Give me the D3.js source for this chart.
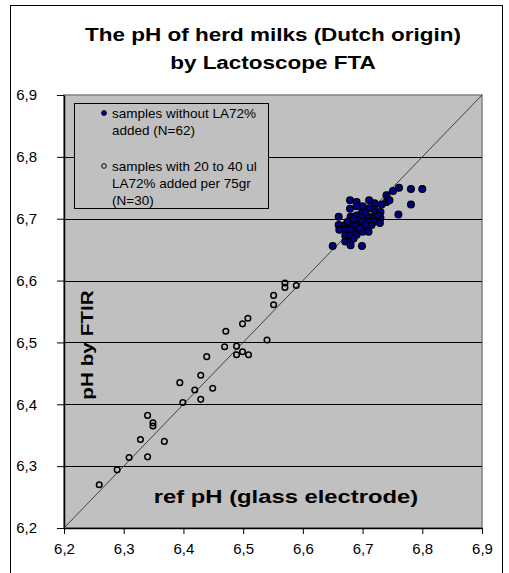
<!DOCTYPE html>
<html>
  <head>
    <style>
      body,
      html {
        margin: 0;
        padding: 0;
        background: #fff;
      }
      text {
        font-family: 'Liberation Sans', Arial, sans-serif;
      }
    </style>
  </head>
  <body>
    <script src="https://cdn.jsdelivr.net/npm/d3@7"></script>
    <script>
      // samples without LA72% added (N=62): ref pH / pH by FTIR
      const plainRef = [
        6.650, 6.679, 6.690, 6.711, 6.740, 6.751, 6.761, 6.740, 6.732, 6.720,
        6.679, 6.711, 6.699, 6.721, 6.730, 6.760, 6.660, 6.680, 6.690, 6.700,
        6.710, 6.719, 6.730, 6.680, 6.690, 6.700, 6.710, 6.719, 6.729, 6.660,
        6.671, 6.680, 6.690, 6.700, 6.661, 6.671, 6.680, 6.690, 6.700, 6.710,
        6.671, 6.680, 6.690, 6.671, 6.680, 6.680, 6.699, 6.781, 6.800, 6.781,
        6.700, 6.720, 6.685, 6.695, 6.705, 6.725, 6.675, 6.685, 6.715, 6.745,
        6.705, 6.690
      ];
      const plainFtir = [
        6.656, 6.730, 6.727, 6.730, 6.738, 6.745, 6.750, 6.727, 6.723, 6.719,
        6.716, 6.717, 6.710, 6.710, 6.711, 6.707, 6.703, 6.703, 6.705, 6.703,
        6.703, 6.702, 6.701, 6.695, 6.696, 6.696, 6.695, 6.695, 6.693, 6.690,
        6.690, 6.689, 6.689, 6.687, 6.682, 6.682, 6.682, 6.680, 6.679, 6.679,
        6.673, 6.673, 6.674, 6.663, 6.664, 6.657, 6.656, 6.748, 6.748, 6.723,
        6.720, 6.725, 6.700, 6.685, 6.710, 6.705, 6.695, 6.668, 6.690, 6.730,
        6.690, 6.720
      ];

      // samples with 20 to 40 ul LA72% added per 75gr (N=30)
      const addedRef = [
        6.570, 6.570, 6.589, 6.551, 6.551, 6.508, 6.499, 6.471, 6.540, 6.469,
        6.489, 6.499, 6.489, 6.509, 6.439, 6.429, 6.394, 6.419, 6.449, 6.429,
        6.399, 6.340, 6.349, 6.349, 6.328, 6.368, 6.309, 6.340, 6.289, 6.259
      ];
      const addedFtir = [
        6.596, 6.589, 6.592, 6.576, 6.561, 6.539, 6.530, 6.518, 6.504, 6.493,
        6.494, 6.485, 6.480, 6.480, 6.477, 6.447, 6.435, 6.423, 6.426, 6.408,
        6.403, 6.382, 6.370, 6.365, 6.343, 6.340, 6.314, 6.315, 6.294, 6.270
      ];

      const ticks = [6.2, 6.3, 6.4, 6.5, 6.6, 6.7, 6.8, 6.9];
      const titleLines = ['The pH of herd milks (Dutch origin)', 'by Lactoscope FTA'];
      const legendPlain = ['samples without LA72%', 'added (N=62)'];
      const legendAdded = ['samples with 20 to 40 ul', 'LA72% added per 75gr', '(N=30)'];

      const width = 509;
      const height = 573;
      const plot = { left: 64, right: 482, top: 95, bottom: 528 };

      const svg = d3
        .select('body')
        .append('svg')
        .attr('width', width)
        .attr('height', height);

      const x = d3.scaleLinear().domain([6.2, 6.9]).range([plot.left, plot.right]);
      const y = d3.scaleLinear().domain([6.2, 6.9]).range([plot.bottom, plot.top]);
      const fmt = (d) => d.toFixed(1).replace('.', ',');

      // the original picture is stretched sideways, so bold labels get a wider scale
      function wideText(parent, tx, ty, str, size, sx, rot) {
        return parent.append('text')
          .attr('transform', `translate(${tx},${ty}) rotate(${rot || 0}) scale(${sx},1)`)
          .attr('text-anchor', 'middle')
          .attr('font-size', size)
          .attr('font-weight', 'bold')
          .text(str);
      }

      // chart border
      svg.append('rect')
        .attr('x', 10.5)
        .attr('y', 5.5)
        .attr('width', 492)
        .attr('height', 600)
        .attr('fill', '#fff')
        .attr('stroke', '#000');

      // title
      titleLines.forEach((t, i) => wideText(svg, 273, 41 + i * 28, t, 18, 1.25));

      // plot area
      svg.append('rect')
        .attr('x', plot.left)
        .attr('y', plot.top)
        .attr('width', plot.right - plot.left)
        .attr('height', plot.bottom - plot.top)
        .attr('fill', '#c0c0c0')
        .attr('stroke', '#808080')
        .attr('stroke-width', 1.5);

      // gridlines
      svg.append('g')
        .selectAll('line')
        .data(ticks.slice(1, -1))
        .enter()
        .append('line')
        .attr('x1', plot.left)
        .attr('x2', plot.right)
        .attr('y1', (d) => Math.round(y(d)) + 0.5)
        .attr('y2', (d) => Math.round(y(d)) + 0.5)
        .attr('stroke', '#000');

      // axes
      const xAxis = svg.append('g')
        .attr('transform', `translate(0,${plot.bottom})`)
        .call(d3.axisBottom(x).tickValues(ticks).tickFormat(fmt).tickSize(6).tickSizeOuter(0));
      const yAxis = svg.append('g')
        .attr('transform', `translate(${plot.left},0)`)
        .call(d3.axisLeft(y).tickValues(ticks).tickFormat(fmt).tickSize(7).tickSizeOuter(0));
      [xAxis, yAxis].forEach((a) => {
        a.select('.domain').attr('stroke', '#000').attr('stroke-width', 1.5);
        a.selectAll('text')
          .attr('font-family', "'Liberation Sans', Arial, sans-serif")
          .attr('font-size', 15)
          .attr('fill', '#000');
      });
      xAxis.selectAll('text').attr('dy', '1.15em');
      yAxis.selectAll('text').attr('x', -27);

      // legend
      svg.append('rect')
        .attr('x', 74.5)
        .attr('y', 103.5)
        .attr('width', 194)
        .attr('height', 105)
        .attr('fill', '#c0c0c0')
        .attr('stroke', '#000');

      const legend = svg.append('g').attr('font-size', 13.5);
      legend.append('circle')
        .attr('cx', 104)
        .attr('cy', 113)
        .attr('r', 2.5)
        .attr('fill', '#000080')
        .attr('stroke', '#000')
        .attr('stroke-width', 0.8);
      legend.append('circle')
        .attr('cx', 104)
        .attr('cy', 166)
        .attr('r', 2.3)
        .attr('fill', 'none')
        .attr('stroke', '#000')
        .attr('stroke-width', 1);
      legend.selectAll('.lp')
        .data(legendPlain)
        .enter()
        .append('text')
        .attr('x', 112)
        .attr('y', (d, i) => 118 + i * 17)
        .text((d) => d);
      legend.selectAll('.la')
        .data(legendAdded)
        .enter()
        .append('text')
        .attr('x', 112)
        .attr('y', (d, i) => 171 + i * 17)
        .text((d) => d);

      // 1:1 line
      svg.append('line')
        .attr('x1', x(6.2))
        .attr('y1', y(6.2))
        .attr('x2', x(6.9))
        .attr('y2', y(6.9))
        .attr('stroke', '#404040')
        .attr('stroke-width', 1);

      // axis titles
      wideText(svg, 93, 345, 'pH by FTIR', 17, 1.22, -90);
      wideText(svg, 286, 503, 'ref pH (glass electrode)', 17.5, 1.36);

      // points
      svg.append('g')
        .selectAll('circle')
        .data(addedRef.map((d, i) => [d, addedFtir[i]]))
        .enter()
        .append('circle')
        .attr('cx', (d) => x(d[0]))
        .attr('cy', (d) => y(d[1]))
        .attr('r', 2.8)
        .attr('fill', 'none')
        .attr('stroke', '#000')
        .attr('stroke-width', 1.5);

      svg.append('g')
        .selectAll('circle')
        .data(plainRef.map((d, i) => [d, plainFtir[i]]))
        .enter()
        .append('circle')
        .attr('cx', (d) => x(d[0]))
        .attr('cy', (d) => y(d[1]))
        .attr('r', 3.4)
        .attr('fill', '#000080')
        .attr('stroke', '#000')
        .attr('stroke-width', 1.2);
    </script>
  </body>
</html>
